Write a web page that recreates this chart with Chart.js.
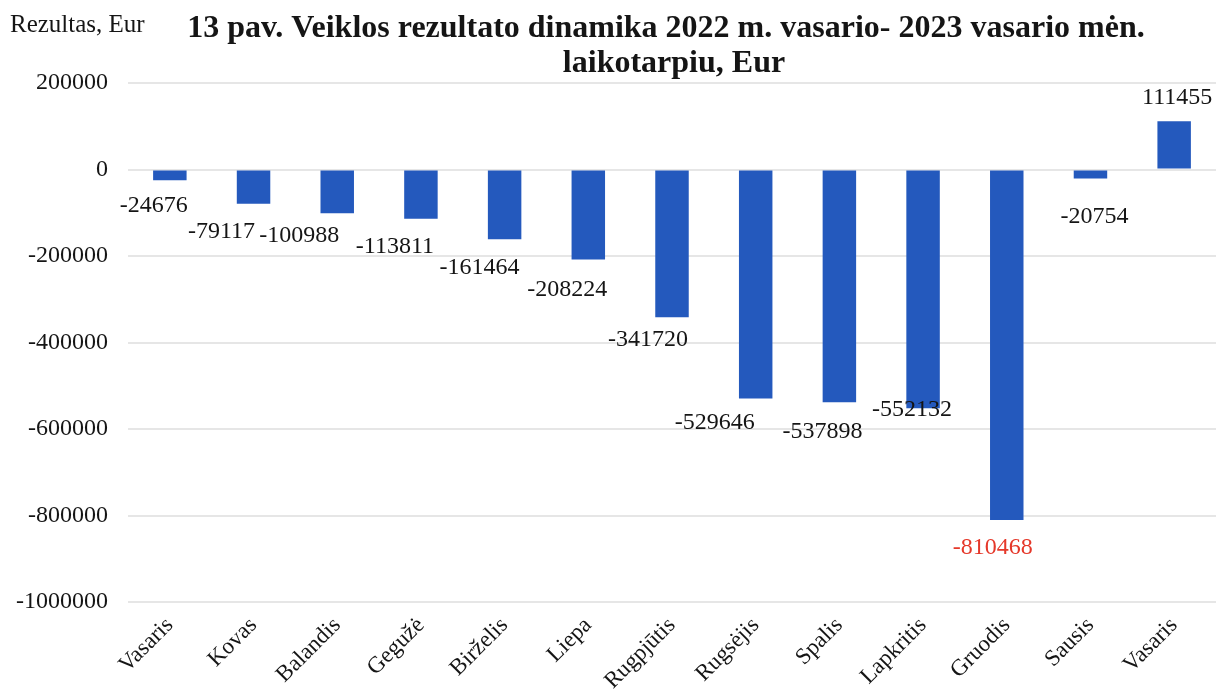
<!DOCTYPE html>
<html>
<head>
<meta charset="utf-8">
<title>Veiklos rezultato dinamika</title>
<script src="https://cdn.jsdelivr.net/npm/chart.js@4/dist/chart.umd.min.js"></script>
<style>
  body { margin: 0; background: #fff; }
  #wrap { width: 1225px; height: 695px; position: relative; }
</style>
</head>
<body>
<div id="wrap"><canvas id="barChart"></canvas></div>
<script>
var months = ["Vasaris", "Kovas", "Balandis", "Gegužė", "Birželis", "Liepa", "Rugpjūtis",
              "Rugsėjis", "Spalis", "Lapkritis", "Gruodis", "Sausis", "Vasaris"];
var results = [-24676, -79117, -100988, -113811, -161464, -208224, -341720,
               -529646, -537898, -552132, -810468, -20754, 111455];
var yTicks = [200000, 0, -200000, -400000, -600000, -800000, -1000000];

// hand-placed label nudges (like the original's dragged labels)
var labelDx = [-16, -32, -38, -26, -25, -21, -24, -41, -17, -11, -14, 4, 3];
var labelDy = [26, 28, 23, 28, 28, 30, 22, 24, 30, 1, 28, 38, -24];

var serif = "'Liberation Serif', 'Times New Roman', serif";

var textPlugin = {
	id: "textPlugin",
	afterDatasetsDraw: function (chart) {
		var ctx = chart.ctx;
		var meta = chart.getDatasetMeta(0);
		var lowest = Math.min.apply(null, results);
		ctx.save();
		ctx.font = "24px " + serif;
		ctx.textAlign = "center";
		ctx.textBaseline = "middle";
		meta.data.forEach(function (bar, i) {
			ctx.fillStyle = results[i] === lowest ? "#e5382a" : "#151515";
			ctx.fillText(String(results[i]), bar.x + labelDx[i], bar.y + labelDy[i]);
		});

		ctx.fillStyle = "#151515";
		ctx.textAlign = "left";
		ctx.font = "25px " + serif;
		ctx.fillText("Rezultas, Eur", 10, 25);

		ctx.textAlign = "center";
		ctx.font = "bold 32px " + serif;
		ctx.fillText("13 pav. Veiklos rezultato dinamika 2022 m. vasario- 2023 vasario mėn.", 666, 29);
		ctx.fillText("laikotarpiu, Eur", 674, 64);
		ctx.restore();
	}
};

new Chart(document.getElementById("barChart"), {
	type: "bar",
	data: {
		labels: months,
		datasets: [{
			data: results,
			backgroundColor: "#2459bd",
			barPercentage: 0.4,
			categoryPercentage: 1
		}]
	},
	options: {
		responsive: true,
		maintainAspectRatio: false,
		animation: false,
		layout: { padding: { top: 83, right: 9, left: 0, bottom: 0 } },
		plugins: {
			legend: { display: false },
			tooltip: { enabled: false }
		},
		scales: {
			x: {
				grid: { display: false },
				border: { display: false },
				ticks: {
					color: "#151515",
					font: { family: serif, size: 23 },
					minRotation: 45,
					maxRotation: 45,
					padding: 2
				},
				afterFit: function (scale) { scale.height = 93; }
			},
			y: {
				min: -1000000,
				max: 200000,
				afterBuildTicks: function (scale) {
					scale.ticks = yTicks.map(function (v) { return { value: v }; });
				},
				grid: { color: "#e6e6e6", lineWidth: 2, drawTicks: false },
				border: { display: false },
				ticks: {
					color: "#151515",
					font: { family: serif, size: 24 },
					padding: 20,
					callback: function (v) { return String(v); }
				},
				afterFit: function (scale) { scale.width = 128; }
			}
		}
	},
	plugins: [textPlugin]
});
</script>
</body>
</html>
